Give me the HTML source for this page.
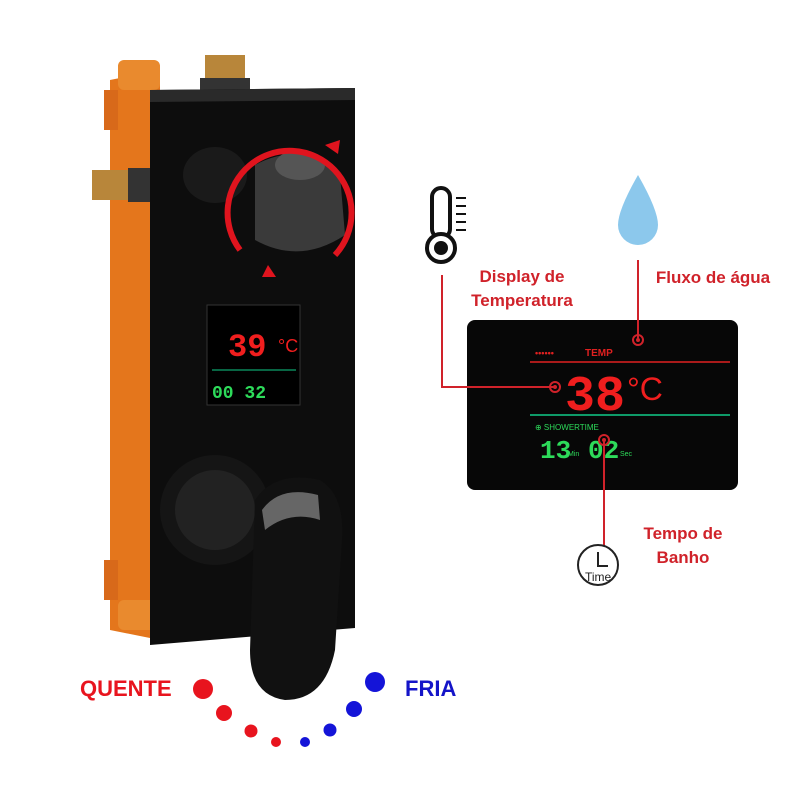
<!DOCTYPE html>
<html><head><meta charset="utf-8"><style>
body{margin:0;background:#fff;}
#c{position:relative;width:800px;height:800px;overflow:hidden;font-family:"Liberation Sans",sans-serif;}
.a{position:absolute;}
.lbl{position:absolute;color:#d0222a;font-weight:bold;font-size:17px;line-height:24px;text-align:center;}
</style></head><body><div id="c">
<svg class="a" style="left:0;top:0" width="800" height="800">
 <!-- orange frame -->
 <path d="M110 80 L160 70 L160 640 L110 630 Z" fill="#e4761c"/>
 <rect x="104" y="90" width="14" height="40" fill="#d8691a"/>
 <rect x="104" y="560" width="14" height="40" fill="#d8691a"/>
 <rect x="118" y="60" width="42" height="30" rx="6" fill="#e98a2e"/>
 <rect x="118" y="600" width="42" height="30" rx="6" fill="#e98a2e"/>
 <!-- fittings -->
 <rect x="205" y="55" width="40" height="32" fill="#b8863a"/>
 <rect x="200" y="78" width="50" height="12" fill="#333"/>
 <rect x="92" y="170" width="40" height="30" fill="#b8863a"/>
 <rect x="128" y="168" width="24" height="34" fill="#333"/>
 <!-- black panel -->
 <path d="M150 90 L355 88 L355 628 L150 645 Z" fill="#0d0d0d"/>
 <path d="M150 90 L355 88 L355 100 L150 102 Z" fill="#2a2a2a"/>
 <!-- knob -->
 <ellipse cx="215" cy="175" rx="32" ry="28" fill="#1a1a1a"/>
 <path d="M255 165 Q300 140 340 175 L345 235 Q300 265 255 240 Z" fill="#3a3a3a"/>
 <ellipse cx="300" cy="165" rx="25" ry="15" fill="#555"/>
 <path d="M240 250 A62 62 0 1 1 335 255" fill="none" stroke="#e0141e" stroke-width="6"/>
 <path d="M268 265 l8 12 l-14 0 z" fill="#e0141e"/>
 <path d="M325 145 l15 -5 l-2 14 z" fill="#e0141e"/>
 <!-- small display -->
 <rect x="207" y="305" width="93" height="100" fill="#000" stroke="#333"/>
 <text x="228" y="356" font-family="Liberation Mono" font-size="32" fill="#f01e1e" font-weight="bold">39</text>
 <text x="278" y="352" font-size="18" fill="#f01e1e">°C</text>
 <line x1="212" y1="370" x2="296" y2="370" stroke="#1c8" stroke-width="1"/>
 <text x="212" y="398" font-family="Liberation Mono" font-size="18" fill="#2ddb5a" font-weight="bold">00 32</text>
 <!-- lever -->
 <circle cx="215" cy="510" r="55" fill="#151515"/>
 <circle cx="215" cy="510" r="40" fill="#222"/>
 <path d="M255 500 Q275 470 320 480 Q345 495 342 540 L335 650 Q325 700 285 700 Q250 695 250 650 Z" fill="#111"/>
 <path d="M262 510 Q280 485 318 495 L320 520 Q290 510 265 530 Z" fill="#666"/>
 <!-- right display -->
 <rect x="467" y="320" width="271" height="170" rx="8" fill="#070707"/>
 <text x="535" y="356" font-size="9" fill="#e02020" font-weight="bold">••••••</text>
 <text x="585" y="356" font-size="10" fill="#e02020" font-weight="bold">TEMP</text>
 <line x1="530" y1="362" x2="730" y2="362" stroke="#e02020" stroke-width="1.5"/>
 <text x="565" y="410" font-family="Liberation Mono" font-size="50" fill="#f01e1e" font-weight="bold">38</text>
 <text x="627" y="400" font-size="32" fill="#f01e1e">°C</text>
 <line x1="530" y1="415" x2="730" y2="415" stroke="#1c8" stroke-width="1.5"/>
 <text x="535" y="430" font-size="8" fill="#2ddb5a">⊕ SHOWERTIME</text>
 <text x="540" y="458" font-family="Liberation Mono" font-size="26" fill="#2ddb5a" font-weight="bold">13</text>
 <text x="568" y="456" font-size="7" fill="#2ddb5a">Min</text>
 <text x="588" y="458" font-family="Liberation Mono" font-size="26" fill="#2ddb5a" font-weight="bold">02</text>
 <text x="620" y="456" font-size="7" fill="#2ddb5a">Sec</text>
 <!-- connectors -->
 <polyline points="442,275 442,387 555,387" fill="none" stroke="#d0222a" stroke-width="2"/>
 <circle cx="555" cy="387" r="5" fill="none" stroke="#d0222a" stroke-width="2"/><circle cx="555" cy="387" r="2" fill="#d0222a"/>
 <line x1="638" y1="260" x2="638" y2="340" stroke="#d0222a" stroke-width="2"/>
 <circle cx="638" cy="340" r="5" fill="none" stroke="#d0222a" stroke-width="2"/><circle cx="638" cy="340" r="2" fill="#d0222a"/>
 <line x1="604" y1="440" x2="604" y2="548" stroke="#d0222a" stroke-width="2"/>
 <circle cx="604" cy="440" r="5" fill="none" stroke="#d0222a" stroke-width="2"/><circle cx="604" cy="440" r="2" fill="#d0222a"/>
 <!-- thermometer -->
 <rect x="432" y="188" width="18" height="50" rx="9" fill="none" stroke="#111" stroke-width="4"/>
 <circle cx="441" cy="248" r="14" fill="#fff" stroke="#111" stroke-width="4"/>
 <circle cx="441" cy="248" r="7" fill="#111"/>
 <g stroke="#111" stroke-width="2"><line x1="456" y1="198" x2="466" y2="198"/><line x1="456" y1="206" x2="466" y2="206"/><line x1="456" y1="214" x2="466" y2="214"/><line x1="456" y1="222" x2="466" y2="222"/><line x1="456" y1="230" x2="466" y2="230"/></g>
 <!-- drop -->
 <path d="M638 175 Q618 210 618 225 A20 20 0 0 0 658 225 Q658 210 638 175 Z" fill="#8cc8ec"/>
 <!-- clock -->
 <circle cx="598" cy="565" r="20" fill="#fff" stroke="#222" stroke-width="2"/>
 <polyline points="598,552 598,566 608,566" fill="none" stroke="#222" stroke-width="2"/>
 <text x="585" y="581" font-size="12" fill="#222">Time</text>
 <!-- dots -->
 <circle cx="203" cy="689" r="10" fill="#e8141e"/>
 <circle cx="224" cy="713" r="8" fill="#e8141e"/>
 <circle cx="251" cy="731" r="6.5" fill="#e8141e"/>
 <circle cx="276" cy="742" r="5" fill="#e8141e"/>
 <circle cx="305" cy="742" r="5" fill="#1414d8"/>
 <circle cx="330" cy="730" r="6.5" fill="#1414d8"/>
 <circle cx="354" cy="709" r="8" fill="#1414d8"/>
 <circle cx="375" cy="682" r="10" fill="#1414d8"/>
</svg>
<div class="lbl" style="left:462px;top:265px;width:120px;">Display de<br>Temperatura</div>
<div class="lbl" style="left:646px;top:266px;width:134px;">Fluxo de água</div>
<div class="lbl" style="left:628px;top:522px;width:110px;">Tempo de<br>Banho</div>
<div class="a" style="left:80px;top:676px;font-size:22px;font-weight:bold;color:#e8141e;">QUENTE</div>
<div class="a" style="left:405px;top:676px;font-size:22px;font-weight:bold;color:#1414c8;">FRIA</div>
</div></body></html>
